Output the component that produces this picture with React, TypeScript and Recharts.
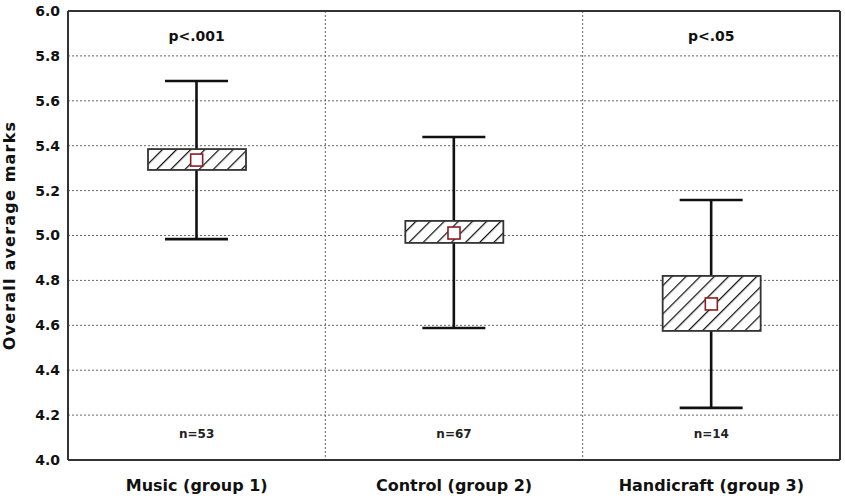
import React from 'react';
import { ComposedChart, Bar, Scatter, XAxis, YAxis, CartesianGrid } from 'recharts';

const categories = ['Music (group 1)', 'Control (group 2)', 'Handicraft (group 3)'];
const means = [5.336, 5.011, 4.695];
const boxLow = [5.292, 4.967, 4.575];
const boxHigh = [5.385, 5.065, 4.82];
const whiskerLow = [4.984, 4.588, 4.232];
const whiskerHigh = [5.688, 5.439, 5.158];
const nLabels = ['n=53', 'n=67', 'n=14'];
const pLabels = ['p<.001', '', 'p<.05'];
const yTicks = [4.0, 4.2, 4.4, 4.6, 4.8, 5.0, 5.2, 5.4, 5.6, 5.8, 6.0];
const yTitle = 'Overall average marks';

const data = categories.map((c, i) => ({
  name: c,
  mean: means[i],
  box: [boxLow[i], boxHigh[i]],
  whisker: [whiskerLow[i], whiskerHigh[i]],
}));

const FONT = '"DejaVu Sans", sans-serif';

const WhiskerShape = (props: any) => {
  const { x, y, width, height } = props;
  const cx = x + width / 2;
  return (
    <g stroke="#111" strokeWidth={2.6}>
      <line x1={cx} y1={y} x2={cx} y2={y + height} />
      <line x1={x} y1={y} x2={x + width} y2={y} />
      <line x1={x} y1={y + height} x2={x + width} y2={y + height} />
    </g>
  );
};

const BoxShape = (props: any) => {
  const { x, y, width, height } = props;
  return (
    <rect x={x} y={y} width={width} height={height} fill="url(#hatch)" stroke="#333" strokeWidth={1.8} />
  );
};

const MeanShape = (props: any) => {
  const { cx, cy } = props;
  return <rect x={cx - 6} y={cy - 6} width={12} height={12} fill="#fff" stroke="#8b1c24" strokeWidth={1.6} />;
};

const BottomTick = (props: any) => {
  const { x, y, payload, index } = props;
  return (
    <g>
      <text x={x} y={y - 22} textAnchor="middle" fontFamily={FONT} fontWeight="bold" fontSize={12} fill="#222">
        {nLabels[index]}
      </text>
      <text x={x} y={y + 31} textAnchor="middle" fontFamily={FONT} fontWeight="bold" fontSize={16} fill="#111">
        {payload.value}
      </text>
    </g>
  );
};

const TopTick = (props: any) => {
  const { x, y, index } = props;
  return (
    <text x={x} y={y + 30} textAnchor="middle" fontFamily={FONT} fontWeight="bold" fontSize={14} fill="#111">
      {pLabels[index]}
    </text>
  );
};

const YTitle = (props: any) => {
  const vb = props.viewBox || {};
  const cy = (vb.y || 0) + (vb.height || 0) / 2;
  return (
    <text
      x={15}
      y={cy}
      transform={`rotate(-90, 15, ${cy})`}
      textAnchor="middle"
      fontFamily={FONT}
      fontWeight="bold"
      fontSize={16}
      letterSpacing={1.2}
      fill="#111"
    >
      {yTitle}
    </text>
  );
};

export default function App() {
  return (
    <div style={{ position: 'absolute', left: 0, top: 0, background: '#fff' }}>
      <ComposedChart width={845} height={498} data={data} margin={{ top: 10, right: 4, bottom: 0, left: 0 }}>
        <defs>
          <pattern id="hatch" patternUnits="userSpaceOnUse" width={10} height={10} patternTransform="rotate(45)">
            <rect width={10} height={10} fill="#fff" />
            <line x1={0} y1={0} x2={0} y2={10} stroke="#111" strokeWidth={2.5} />
          </pattern>
        </defs>
        <CartesianGrid
          xAxisId="bottom"
          yAxisId="left"
          stroke="#666"
          strokeDasharray="2 2"
          verticalCoordinatesGenerator={({ offset }: any) => [
            offset.left + offset.width / 3,
            offset.left + (2 * offset.width) / 3,
          ]}
          syncWithTicks={false}
        />
        <XAxis
          xAxisId="bottom"
          dataKey="name"
          type="category"
          height={38}
          tickSize={0}
          tickMargin={0}
          tickLine={false}
          axisLine={{ stroke: '#333', strokeWidth: 2 }}
          tick={<BottomTick />}
          interval={0}
        />
        <XAxis
          xAxisId="top"
          dataKey="name"
          type="category"
          orientation="top"
          height={1}
          tickSize={0}
          tickMargin={0}
          tickLine={false}
          axisLine={{ stroke: '#333', strokeWidth: 2 }}
          tick={<TopTick />}
          interval={0}
        />
        <YAxis
          yAxisId="left"
          type="number"
          domain={[4, 6]}
          ticks={yTicks}
          width={68}
          tickSize={0}
          tickMargin={8}
          tickLine={false}
          axisLine={{ stroke: '#333', strokeWidth: 2 }}
          tickFormatter={(v: number) => v.toFixed(1)}
          tick={{ fontFamily: FONT, fontWeight: 'bold', fontSize: 14, fill: '#111' }}
          allowDataOverflow
          label={<YTitle />}
        />
        <YAxis
          yAxisId="right"
          orientation="right"
          type="number"
          domain={[4, 6]}
          width={1}
          tick={false}
          tickLine={false}
          axisLine={{ stroke: '#333', strokeWidth: 2 }}
        />
        <Bar
          xAxisId="top"
          yAxisId="left"
          dataKey="whisker"
          barSize={63}
          shape={<WhiskerShape />}
          isAnimationActive={false}
        />
        <Bar
          xAxisId="bottom"
          yAxisId="left"
          dataKey="box"
          barSize={98}
          shape={<BoxShape />}
          isAnimationActive={false}
        />
        <Scatter
          xAxisId="bottom"
          yAxisId="left"
          dataKey="mean"
          shape={<MeanShape />}
          isAnimationActive={false}
        />
      </ComposedChart>
    </div>
  );
}
